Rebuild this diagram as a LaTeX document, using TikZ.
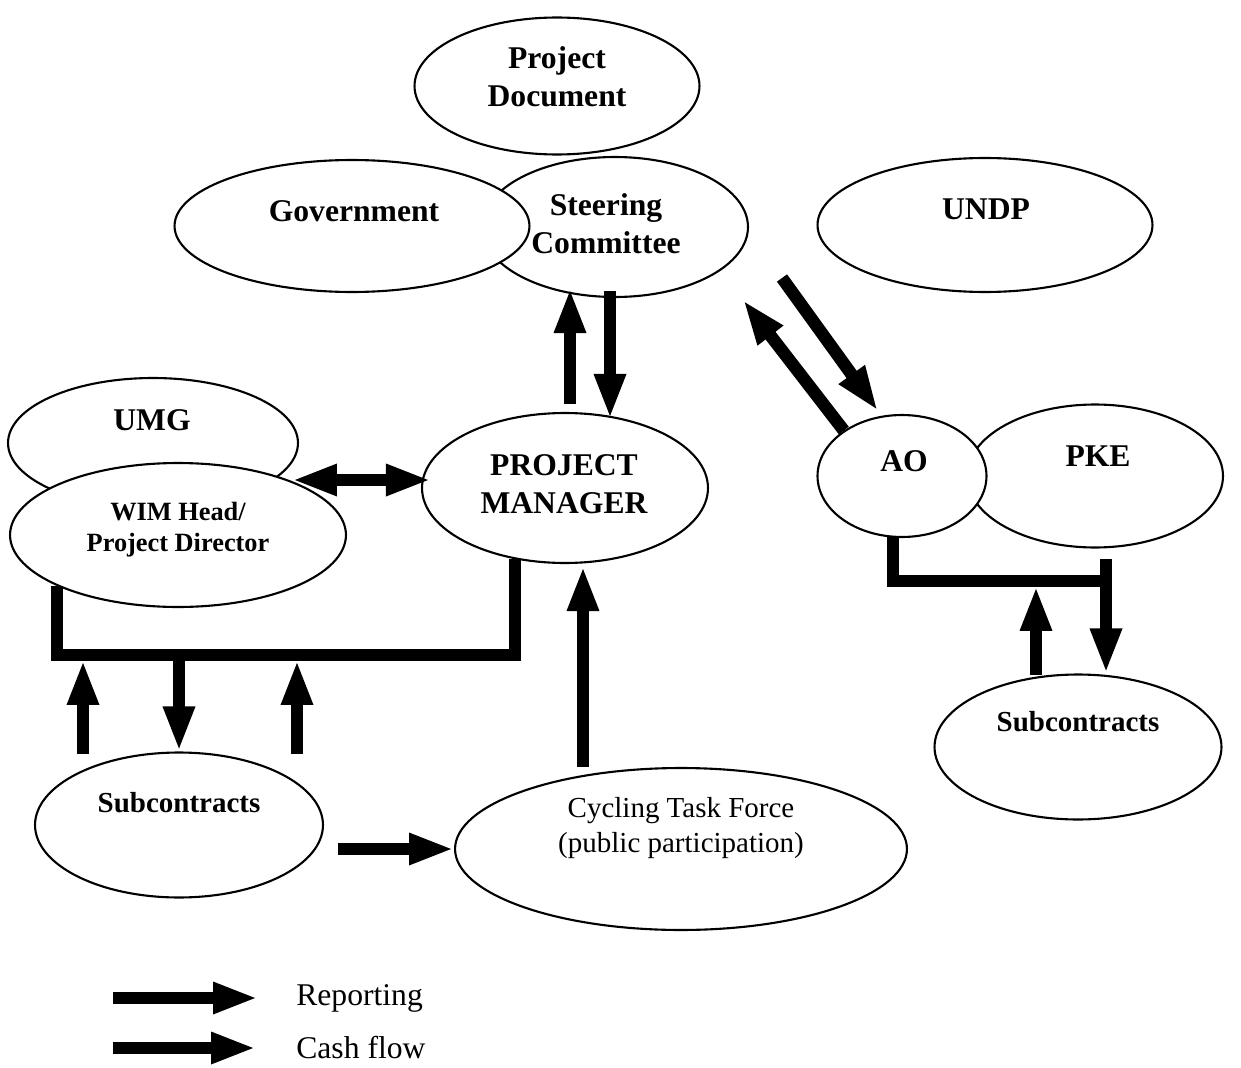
\documentclass[tikz,border=0pt]{standalone}
\usepackage{fontspec}
\setmainfont{Liberation Serif}
\usetikzlibrary{
  shapes.geometric,
  arrows.meta,
  calc
}
\definecolor{inkcolor}{RGB}{0, 0, 0}
\tikzset{
oval/.style={
  draw=inkcolor,
  ellipse,
  fill=white,
  line width=1.2pt,
  inner sep=0pt
},
ovaltext/.style={
  align=center,
  inner sep=0pt,
  text=inkcolor,
  font=\bfseries\fontsize{18}{21.6}\selectfont
},
smalltext/.style={
  ovaltext,
  font=\bfseries\fontsize{15}{17.6}\selectfont
},
subtext/.style={
  ovaltext,
  font=\bfseries\fontsize{16.5}{19.8}\selectfont
},
plaintext/.style={
  ovaltext,
  font=\fontsize{16.5}{19.8}\selectfont
},
keytext/.style={
  ovaltext,
  anchor=west,
  font=\fontsize{18}{21.6}\selectfont
},
flow/.style={
  -{Triangle[length=0.9cm,width=0.58cm]},
  line width=0.25cm,
  draw=inkcolor
},
twoflow/.style={
  flow,
  {Triangle[length=0.9cm,width=0.58cm]}-{Triangle[length=0.9cm,width=0.58cm]}
},
bus/.style={
  line width=0.24cm,
  draw=inkcolor,
  line join=miter
}
}

\begin{document}
\begin{tikzpicture}[x=0.02cm, y=-0.02cm]
  \useasboundingbox (0,0) rectangle (1241,1068);

  \node[oval, minimum width=5.32cm, minimum height=2.80cm] (steer) at (615,227) {};
  \node[oval, minimum width=5.70cm, minimum height=2.74cm] (pdoc) at (557,86) {};
  \node[oval, minimum width=7.10cm, minimum height=2.64cm] (govt) at (352,226) {};
  \node[oval, minimum width=6.70cm, minimum height=2.68cm] (undp) at (985,225) {};
  \node[oval, minimum width=5.80cm, minimum height=2.60cm] (umg) at (153,443) {};
  \node[oval, minimum width=6.72cm, minimum height=2.88cm] (wim) at (178,535) {};
  \node[oval, minimum width=5.72cm, minimum height=3.00cm] (pm) at (565,488) {};
  \node[oval, minimum width=5.12cm, minimum height=2.86cm] (pke) at (1095,476) {};
  \node[oval, minimum width=3.38cm, minimum height=2.44cm] (ao) at (902,476) {};
  \node[oval, minimum width=5.74cm, minimum height=2.90cm] (subR) at (1078,747) {};
  \node[oval, minimum width=5.76cm, minimum height=2.90cm] (subL) at (179,825) {};
  \node[oval, minimum width=9.04cm, minimum height=3.24cm] (ctf) at (681,849) {};

  \node[ovaltext] (pdoc-t) at ($(pdoc)+(0,-9)$) {Project\\Document};
  \node[ovaltext] (steer-t) at ($(steer)+(-9,-3)$) {Steering\\Committee};
  \node[ovaltext] (govt-t) at ($(govt)+(2,-15)$) {Government};
  \node[ovaltext] (undp-t) at ($(undp)+(1,-16)$) {UNDP};
  \node[ovaltext] (umg-t) at ($(umg)+(-1,-23)$) {UMG};
  \node[smalltext] (wim-t) at ($(wim)+(0,-5)$) {WIM Head/\\Project Director};
  \node[ovaltext] (pm-t) at ($(pm)+(-1,-4)$) {PROJECT\\MANAGER};
  \node[ovaltext] (ao-t) at ($(ao)+(2,-15)$) {AO};
  \node[ovaltext] (pke-t) at ($(pke)+(3,-20)$) {PKE};
  \node[subtext] (subR-t) at ($(subR)+(0,-25)$) {Subcontracts};
  \node[subtext] (subL-t) at ($(subL)+(0,-22)$) {Subcontracts};
  \node[plaintext] (ctf-t) at ($(ctf)+(0,-21)$) {Cycling Task Force\\(public participation)};

  \coordinate (lbus) at (0,655);
  \coordinate (rbus) at (1112,581);

  \draw[flow] ($(pm.north)+(5,-8)$) -- ($(steer.south)+(-45,-10)$);
  \draw[flow] ($(steer.south)+(-5,-7)$) -- ($(pm.north)+(45,7)$);
  \draw[flow] (ao.142) -- ($(steer.center)+(128,73)$);
  \draw[flow] ($(steer.center)+(167,51)$) -- ($(ao.north)+(-24,-3)$);
  \draw[twoflow] ($(wim.center)+(114,-55)$) -- ($(pm.west)+(10,-8)$);

  \draw[bus] (wim.203) -- (wim.203 |- lbus) -| (pm.235);
  \draw[flow] ($(subL.north)+(-96,3)$) -- ($(subL.north |- lbus)+(-96,5)$);
  \draw[flow] ($(subL.north |- lbus)+(0,5)$) -- (subL.north);
  \draw[flow] ($(subL.north)+(118,3)$) -- ($(subL.north |- lbus)+(118,5)$);
  \draw[flow] ($(ctf.north)+(-98,0)$) -- ($(pm.south)+(18,2)$);
  \draw[flow] ($(subL.east)+(14,24)$) -- (ctf.west);

  \draw[bus] ($(ao.south)+(-9,-2)$) |- (rbus);
  \draw[flow] ($(pke.south)+(11,10)$) -- ($(subR.north)+(28,0)$);
  \draw[flow] ($(subR.north)+(-42,2)$) -- ($(subR.north |- rbus)+(-42,5)$);

  \node[keytext] (rep) at (296,998) {Reporting};
  \node[keytext] (cash) at (296,1048) {Cash flow};
  \draw[flow] ($(rep.west)+(-183,0)$) -- ($(rep.west)+(-38,0)$);
  \draw[flow] ($(cash.west)+(-183,0)$) -- ($(cash.west)+(-40,0)$);
\end{tikzpicture}
\end{document}
